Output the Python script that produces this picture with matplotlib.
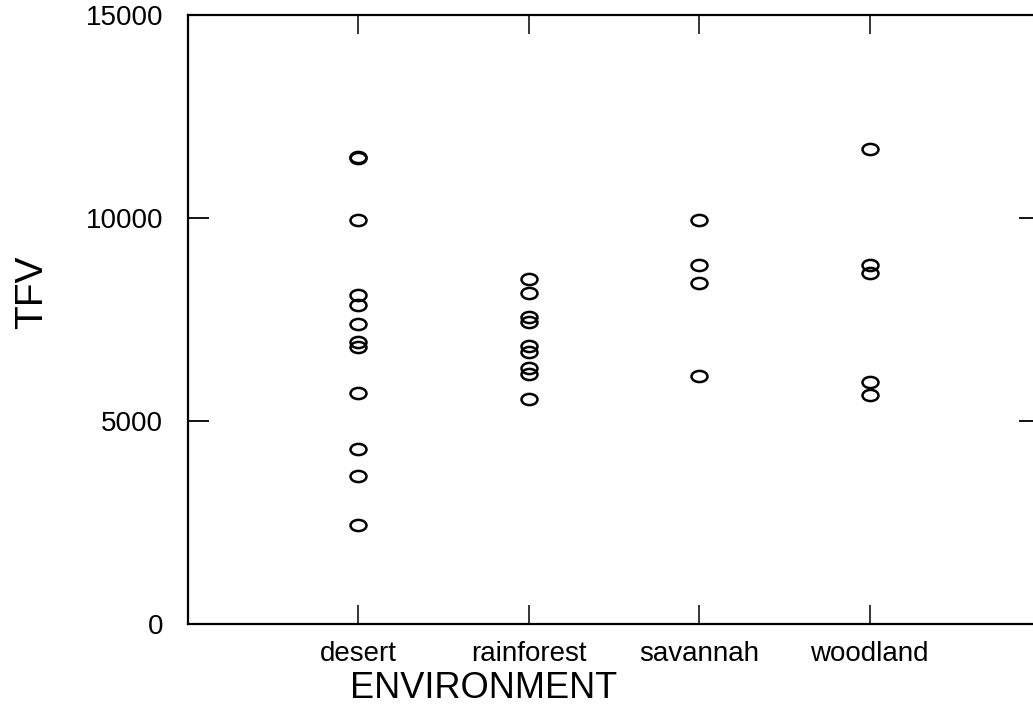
#!/usr/bin/env python3
"""
Dot plot of TFV by ENVIRONMENT
"""

import matplotlib
matplotlib.use('Agg')
import matplotlib.pyplot as plt
from matplotlib.path import Path
from matplotlib.transforms import Affine2D

# categories and values
environments = ['desert', 'rainforest', 'savannah', 'woodland']
desert_tfv = [11500, 11480, 9950, 8100, 7850, 7400, 6950, 6820, 5700, 4300, 3650, 2450]
rainforest_tfv = [8500, 8150, 7550, 7450, 6850, 6700, 6300, 6150, 5550]
savannah_tfv = [9950, 8850, 8400, 6100]
woodland_tfv = [11700, 8850, 8650, 5950, 5650]
y_ticks = [0, 5000, 10000, 15000]


def create_plot():
    plt.rcParams['font.family'] = ['Liberation Sans', 'DejaVu Sans']

    fig = plt.figure(figsize=(10.33, 7.09), dpi=100)
    W, H = 1033, 709
    # right edge of the axes lies just past the picture, as in the original
    ax = fig.add_axes([188 / W, 1 - 624 / H, (1040 - 188) / W, (624 - 15) / H])

    # open ellipse marker
    ellipse = Path.unit_circle().transformed(Affine2D().scale(1.0, 0.7))

    groups = [desert_tfv, rainforest_tfv, savannah_tfv, woodland_tfv]
    for i, vals in enumerate(groups):
        ax.plot([i + 1] * len(vals), vals, linestyle='none', marker=ellipse,
                markersize=11.5, markerfacecolor='none', markeredgecolor='black',
                markeredgewidth=1.8, clip_on=False)

    ax.set_xlim(0, 5)
    ax.set_ylim(0, 15000)
    ax.set_xticks(range(1, len(environments) + 1))
    ax.set_xticklabels(environments)
    ax.set_yticks(y_ticks)
    ax.set_yticklabels([str(v) for v in y_ticks])

    ax.spines['right'].set_visible(False)
    for side in ['left', 'top', 'bottom']:
        ax.spines[side].set_linewidth(1.6)

    ax.tick_params(axis='y', direction='in', length=15, width=1.3,
                   left=True, right=True, labelsize=20, pad=18)
    ax.tick_params(axis='x', direction='in', length=14, width=1.1,
                   bottom=True, top=True, labelsize=20, pad=12)

    ax.set_ylabel('TFV', fontsize=28)
    ax.yaxis.set_label_coords((50 - 188) / (1040 - 188), (624 - 292) / (624 - 15))
    ax.set_xlabel('ENVIRONMENT', fontsize=26)
    ax.xaxis.set_label_coords((484 - 188) / (1040 - 188), -(671 - 624) / (624 - 15))

    fig.savefig('out.png', dpi=100)


if __name__ == "__main__":
    create_plot()
